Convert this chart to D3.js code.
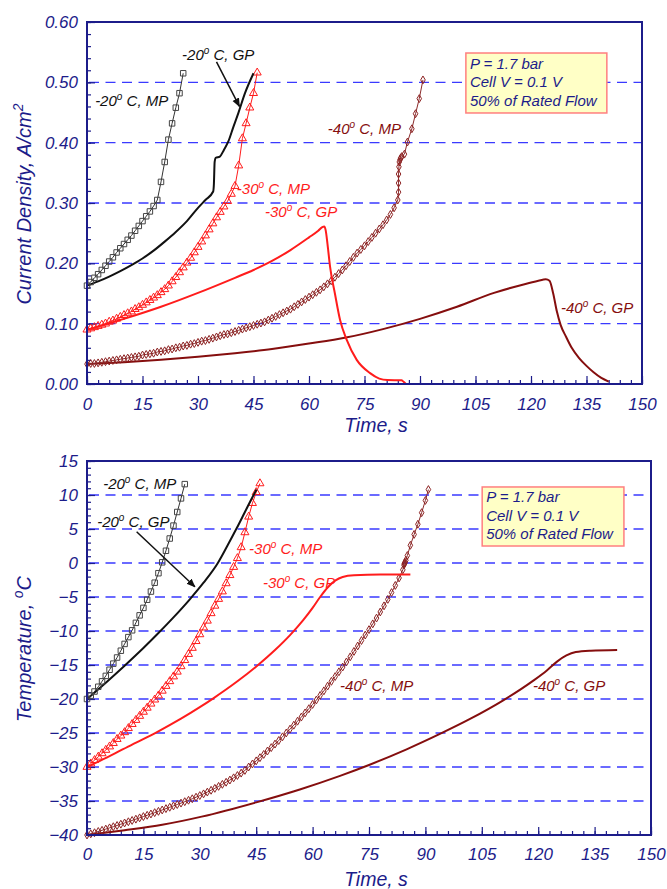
<!DOCTYPE html>
<html>
<head>
<meta charset="utf-8">
<script src="https://cdn.jsdelivr.net/npm/d3@7"></script>
<style>
  body { margin: 0; background: #fff; }
  svg { display: block; }
  text { font-family: "Liberation Sans", Arial, sans-serif; font-style: italic; }
</style>
</head>
<body>
<svg id="chart" width="667" height="889"></svg>
<script>
// ---- axis ticks ----
const timeTicks = [0, 15, 30, 45, 60, 75, 90, 105, 120, 135, 150];
const currentTicks = [0, 0.1, 0.2, 0.3, 0.4, 0.5, 0.6];
const tempTicks = [-40, -35, -30, -25, -20, -15, -10, -5, 0, 5, 10, 15];

// ---- MP runs: one sample per second starting at t = 0 ----
const mpStep = 1; // s
const curMP20 = [.163,.169,.176,.182,.189,.196,.203,.210,.218,.225,.232,.239,.246,.254,.262,.270,.278,.286,.295,.305,.335,.368,.405,.432,.458,.482,.515];
const curMP30 = [.090,.092,.094,.096,.098,.100,.103,.105,.108,.111,.114,.117,.120,.124,.127,.131,.135,.139,.143,.147,.152,.157,.163,.170,.177,.185,.193,.201,.209,.218,.227,.236,.246,.256,.266,.276,.285,.294,.303,.315,.328,.362,.407,.432,.458,.482,.516];
const curMP40 = [.033,.034,.034,.035,.036,.037,.038,.039,.040,.041,.042,.043,.044,.045,.046,.048,.049,.050,.051,.053,.054,.055,.057,.058,.060,.061,.063,.064,.066,.067,.069,.071,.072,.074,.076,.078,.080,.082,.083,.085,.087,.089,.091,.093,.095,.097,.099,.101,.103,.106,.109,.112,.115,.118,.121,.124,.128,.132,.136,.140,.144,.148,.152,.156,.161,.166,.171,.177,.183,.189,.196,.203,.210,.217,.223,.229,.236,.243,.250,.257,.264,.272,.281,.292,.305];
const curMP40Tail = [[84.2,.318],[84.2,.333],[84.2,.348],[84.3,.360],[84.4,.368],[84.6,.372],[84.8,.375],[85.1,.377],[85.8,.381],[86.6,.401],[87.8,.423],[88.8,.448],[89.8,.473],[90.8,.504]];

const tempMP20 = [-20,-19.5,-18.9,-18.2,-17.4,-16.6,-15.7,-14.8,-13.9,-12.9,-11.9,-10.9,-9.9,-8.8,-7.7,-6.6,-5.4,-4.2,-2.9,-1.5,0.1,1.8,3.6,5.5,7.5,9.5,11.6];
const tempMP30 = [-30,-29.5,-29,-28.5,-28,-27.5,-27,-26.5,-25.9,-25.4,-24.9,-24.3,-23.7,-23.1,-22.5,-21.9,-21.3,-20.7,-20.1,-19.5,-18.8,-18.1,-17.4,-16.7,-16,-15.2,-14.3,-13.4,-12.5,-11.5,-10.5,-9.5,-8.5,-7.4,-6.3,-5.3,-4.2,-3.0,-1.8,-0.6,0.7,2.3,4.5,6.8,8.8,10.4,11.7];
const tempMP40 = [-40,-39.83,-39.66,-39.48,-39.31,-39.13,-38.95,-38.78,-38.6,-38.41,-38.23,-38.05,-37.86,-37.67,-37.48,-37.29,-37.1,-36.91,-36.71,-36.52,-36.32,-36.12,-35.92,-35.72,-35.52,-35.31,-35.1,-34.89,-34.67,-34.44,-34.2,-33.95,-33.69,-33.42,-33.14,-32.85,-32.55,-32.24,-31.92,-31.59,-31.25,-30.9,-30.5,-30.0,-29.55,-29.1,-28.63,-28.15,-27.65,-27.15,-26.63,-26.1,-25.56,-25.0,-24.43,-23.85,-23.26,-22.66,-22.05,-21.43,-20.8,-20.15,-19.48,-18.8,-18.1,-17.4,-16.7,-16.0,-15.3,-14.55,-13.8,-13.0,-12.2,-11.4,-10.6,-9.8,-8.95,-8.1,-7.2,-6.3,-5.35,-4.35,-3.3,-2.2,-1.0];
const tempMP40Tail = [[84.3,-0.3],[84.4,-0.1],[84.5,0],[84.6,0.1],[84.8,0.4],[85.2,1.1],[86,2.6],[87,4.2],[88,5.7],[89,7.4],[90,9.2],[90.8,10.8]];

// ---- GP runs: [time s, value] ----
const curGP20 = [[0,.163],[3,.170],[6,.178],[9,.187],[12,.197],[15,.208],[18,.221],[21,.236],[24,.252],[27,.270],[30,.292],[32,.305],[34.1,.319],[34.3,.332],[34.5,.368],[34.8,.375],[35.9,.377],[37,.388],[38.2,.402],[39.5,.425],[40.9,.449],[42.7,.482],[45,.515]];
const curGP30 = [[0,.090],[10,.108],[20,.128],[30,.151],[40,.176],[45,.189],[50,.204],[55,.222],[60,.243],[62.5,.254],[63.6,.260],[64.1,.261],[64.5,.255],[65,.232],[65.7,.194],[67,.150],[68.4,.106],[70.2,.073],[72.9,.040],[76.5,.018],[79,.009],[81.2,.0066],[85,.0062],[85.5,.004],[86.2,0]];
const curGP40 = [[0,.033],[10,.036],[20,.040],[30,.045],[40,.051],[50,.058],[60,.067],[70,.077],[80,.091],[90,.108],[100,.128],[110,.151],[118,.165],[122,.171],[124,.1735],[125,.171],[126,.150],[127,.120],[128,.098],[129.5,.078],[131,.060],[133,.043],[135,.030],[137,.019],[139,.010],[141,.004]];

const tempGP20 = [[0,-20],[5,-17.6],[10,-15.1],[15,-12.5],[19,-10.3],[23,-8.0],[27.4,-5.3],[31,-2.9],[34.8,0],[37.3,2.5],[39.8,5.1],[42,7.5],[44.2,9.9],[45.1,10.8]];
const tempGP30 = [[0,-30],[6,-28.4],[12,-26.7],[18.5,-24.9],[25,-22.9],[30,-21.2],[33.6,-19.9],[40,-17.4],[45.5,-15],[50,-12.8],[54,-10.6],[57.5,-8.4],[60,-6.6],[62,-5.0],[64,-3.6],[66,-2.6],[68,-2.05],[71,-1.8],[78,-1.7],[86,-1.7]];
const tempGP40 = [[0,-40],[10,-39.3],[20,-38.5],[30.5,-37.3],[45,-35.2],[56.6,-33.3],[67.3,-31.3],[75,-29.7],[85,-27.4],[94,-25.1],[102,-22.9],[110.7,-20.2],[118.7,-17.3],[122.3,-15.8],[125,-14.5],[127.5,-13.6],[130,-13.1],[134,-12.9],[141,-12.8]];

// ---- text ----
const runLabels = ["-20", "-30", "-40"];
const noteLines = ["P = 1.7 bar", "Cell V = 0.1 V", "50% of Rated Flow"];

// ---- styling ----
const NAVY = "#1c1c8a";
const GRID = "#3a3aff";
const BLACK = "#111";
const RED = "#ff1c1c";
const DARKRED = "#850e0e";
const FONT = '"Liberation Sans", Arial, sans-serif';

const svg = d3.select("#chart");
const defs = svg.append("defs");
defs.append("marker").attr("id", "arrowhead")
  .attr("viewBox", "0 0 10 10").attr("refX", 9).attr("refY", 5)
  .attr("markerWidth", 9).attr("markerHeight", 9).attr("markerUnits", "userSpaceOnUse")
  .attr("orient", "auto")
  .append("path").attr("d", "M0,1 L10,5 L0,9 Z").attr("fill", BLACK);

const withTime = arr => arr.map((v, i) => [i * mpStep, v]);

function drawPanel(cfg) {
  const x = d3.scaleLinear().domain([0, 150]).range([cfg.left, cfg.right]);
  const y = d3.scaleLinear().domain(cfg.yDomain).range([cfg.bottom, cfg.top]);
  const g = svg.append("g");

  // dashed gridlines at interior major ticks
  g.append("g").selectAll("line")
    .data(cfg.yTicks.filter(v => v > cfg.yDomain[0] && v < cfg.yDomain[1]))
    .join("line")
    .attr("x1", cfg.left + 2).attr("x2", cfg.right)
    .attr("y1", d => y(d)).attr("y2", d => y(d))
    .attr("stroke", GRID).attr("stroke-width", 1.4)
    .attr("stroke-dasharray", "10,6.5");

  // ticks & labels
  const styleAxis = sel => {
    sel.attr("color", NAVY).attr("font-family", FONT).attr("font-size", 17);
    sel.select(".domain").remove();
    sel.selectAll(".tick line").attr("stroke-width", 1.2);
  };
  g.append("g").attr("transform", `translate(${cfg.left},0)`)
    .call(d3.axisLeft(y).tickValues(d3.range(cfg.yDomain[0], cfg.yDomain[1] + 1e-9, cfg.yMinor)).tickSize(-4).tickFormat(""))
    .call(styleAxis);
  g.append("g").attr("transform", `translate(${cfg.left},0)`)
    .call(d3.axisLeft(y).tickValues(cfg.yTicks).tickSize(-8).tickPadding(9).tickFormat(cfg.yFormat))
    .call(styleAxis);
  g.append("g").attr("transform", `translate(0,${cfg.bottom})`)
    .call(d3.axisBottom(x).tickValues(d3.range(0, 151, 3)).tickSize(-4).tickFormat(""))
    .call(styleAxis);
  g.append("g").attr("transform", `translate(0,${cfg.bottom})`)
    .call(d3.axisBottom(x).tickValues(timeTicks).tickSize(-8).tickPadding(cfg.xPad).tickFormat(d3.format("d")))
    .call(styleAxis);

  // series
  const lineLin = d3.line().x(d => x(d[0])).y(d => y(d[1]));
  const lineSmooth = d3.line().x(d => x(d[0])).y(d => y(d[1])).curve(d3.curveMonotoneX);

  cfg.series.forEach(s => {
    const pts = s.pts;
    g.append("path").datum(pts)
      .attr("d", s.symbol ? lineLin : lineSmooth)
      .attr("fill", "none").attr("stroke", s.color)
      .attr("stroke-width", s.symbol ? 1 : 2)
      .attr("stroke-linejoin", "round");
    if (s.symbol) {
      const sym = d3.symbol().type(s.symbol).size(s.size);
      g.append("g").selectAll("path").data(pts).join("path")
        .attr("transform", d => `translate(${x(d[0])},${y(d[1])})`)
        .attr("d", sym)
        .attr("fill", "none").attr("stroke", s.mcolor).attr("stroke-width", 1);
    }
  });

  // plot frame
  g.append("rect")
    .attr("x", cfg.left).attr("y", cfg.top)
    .attr("width", cfg.right - cfg.left).attr("height", cfg.bottom - cfg.top)
    .attr("fill", "none").attr("stroke", NAVY).attr("stroke-width", 2);

  // run labels with superscript degree
  cfg.labels.forEach(l => {
    const t = g.append("text")
      .attr("x", x(l.t)).attr("y", y(l.v))
      .attr("fill", l.color).attr("font-size", 15);
    t.append("tspan").text(l.run);
    t.append("tspan").attr("font-size", 10).attr("dy", -6).text("o");
    t.append("tspan").attr("dy", 6).text(" C, " + l.kind);
  });

  // arrow
  if (cfg.arrow) {
    const a = cfg.arrow;
    g.append("line")
      .attr("x1", x(a[0][0])).attr("y1", y(a[0][1]))
      .attr("x2", x(a[1][0])).attr("y2", y(a[1][1]))
      .attr("stroke", BLACK).attr("stroke-width", 1.5)
      .attr("marker-end", "url(#arrowhead)");
  }

  // conditions note
  const n = cfg.note;
  const bx = x(n.t0), by = y(n.v0);
  g.append("rect")
    .attr("x", bx).attr("y", by)
    .attr("width", x(n.t1) - bx).attr("height", y(n.v1) - by)
    .attr("fill", "#ffffc6").attr("stroke", "#ff7f7f").attr("stroke-width", 1.5);
  g.append("g").selectAll("text").data(noteLines).join("text")
    .attr("x", bx + 4).attr("y", (d, i) => by + 15.5 + i * 18.5)
    .attr("fill", NAVY).attr("font-size", 15).text(d => d);

  // axis titles
  const yt = g.append("text")
    .attr("transform", `translate(31,${(cfg.top + cfg.bottom) / 2 + 1}) rotate(-90)`)
    .attr("text-anchor", "middle").attr("fill", NAVY).attr("font-size", 20);
  cfg.yTitle(yt);
  g.append("text")
    .attr("x", 376).attr("y", cfg.xTitleY)
    .attr("text-anchor", "middle").attr("fill", NAVY).attr("font-size", 19.5)
    .text("Time, s");
}

// ---- current density panel ----
drawPanel({
  left: 87, right: 642, top: 22, bottom: 384,
  yDomain: [0, 0.6], yTicks: currentTicks, yMinor: 0.02,
  yFormat: d3.format(".2f"), xPad: 14, xTitleY: 432,
  series: [
    { pts: curGP40, color: DARKRED },
    { pts: withTime(curMP40).concat(curMP40Tail), color: "#8a2a2a", mcolor: "#8d2323", symbol: d3.symbolDiamond, size: 18 },
    { pts: curGP30, color: RED },
    { pts: withTime(curMP30), color: RED, mcolor: RED, symbol: d3.symbolTriangle, size: 28 },
    { pts: curGP20, color: BLACK },
    { pts: withTime(curMP20), color: "#333", mcolor: "#444", symbol: d3.symbolSquare, size: 30 }
  ],
  labels: [
    { t: 2.2, v: 0.461, run: runLabels[0], kind: "MP", color: BLACK },
    { t: 25.7, v: 0.537, run: runLabels[0], kind: "GP", color: BLACK },
    { t: 40.5, v: 0.315, run: runLabels[1], kind: "MP", color: RED },
    { t: 48.1, v: 0.276, run: runLabels[1], kind: "GP", color: RED },
    { t: 65.1, v: 0.414, run: runLabels[2], kind: "MP", color: DARKRED },
    { t: 128.1, v: 0.118, run: runLabels[2], kind: "GP", color: DARKRED }
  ],
  arrow: [[35.0, 0.534], [41.2, 0.460]],
  note: { t0: 102.4, t1: 140.5, v0: 0.5486, v1: 0.4492 },
  yTitle: t => {
    t.append("tspan").text("Current Density, A/cm");
    t.append("tspan").attr("font-size", 14).attr("dy", -8).text("2");
  }
});

// ---- temperature panel ----
drawPanel({
  left: 87, right: 651, top: 461, bottom: 835,
  yDomain: [-40, 15], yTicks: tempTicks, yMinor: 1,
  yFormat: d3.format("d"), xPad: 13, xTitleY: 886,
  series: [
    { pts: tempGP40, color: DARKRED },
    { pts: withTime(tempMP40).concat(tempMP40Tail), color: "#8a2a2a", mcolor: "#8d2323", symbol: d3.symbolDiamond, size: 18 },
    { pts: tempGP30, color: RED },
    { pts: withTime(tempMP30), color: RED, mcolor: RED, symbol: d3.symbolTriangle, size: 28 },
    { pts: tempGP20, color: BLACK },
    { pts: withTime(tempMP20), color: "#333", mcolor: "#444", symbol: d3.symbolSquare, size: 30 }
  ],
  labels: [
    { t: 4.3, v: 10.9, run: runLabels[0], kind: "MP", color: BLACK },
    { t: 2.7, v: 5.3, run: runLabels[0], kind: "GP", color: BLACK },
    { t: 43.1, v: 1.3, run: runLabels[1], kind: "MP", color: RED },
    { t: 46.8, v: -3.7, run: runLabels[1], kind: "GP", color: RED },
    { t: 67.3, v: -18.8, run: runLabels[2], kind: "MP", color: DARKRED },
    { t: 118.6, v: -18.8, run: runLabels[2], kind: "GP", color: DARKRED }
  ],
  arrow: [[13.2, 4.6], [28.7, -3.5]],
  note: { t0: 105.1, t1: 142.8, v0: 11.18, v1: 2.5 },
  yTitle: t => {
    t.append("tspan").text("Temperature, ");
    t.append("tspan").attr("font-size", 14).attr("dy", -8).text("o");
    t.append("tspan").attr("dy", 8).text("C");
  }
});
</script>
</body>
</html>
